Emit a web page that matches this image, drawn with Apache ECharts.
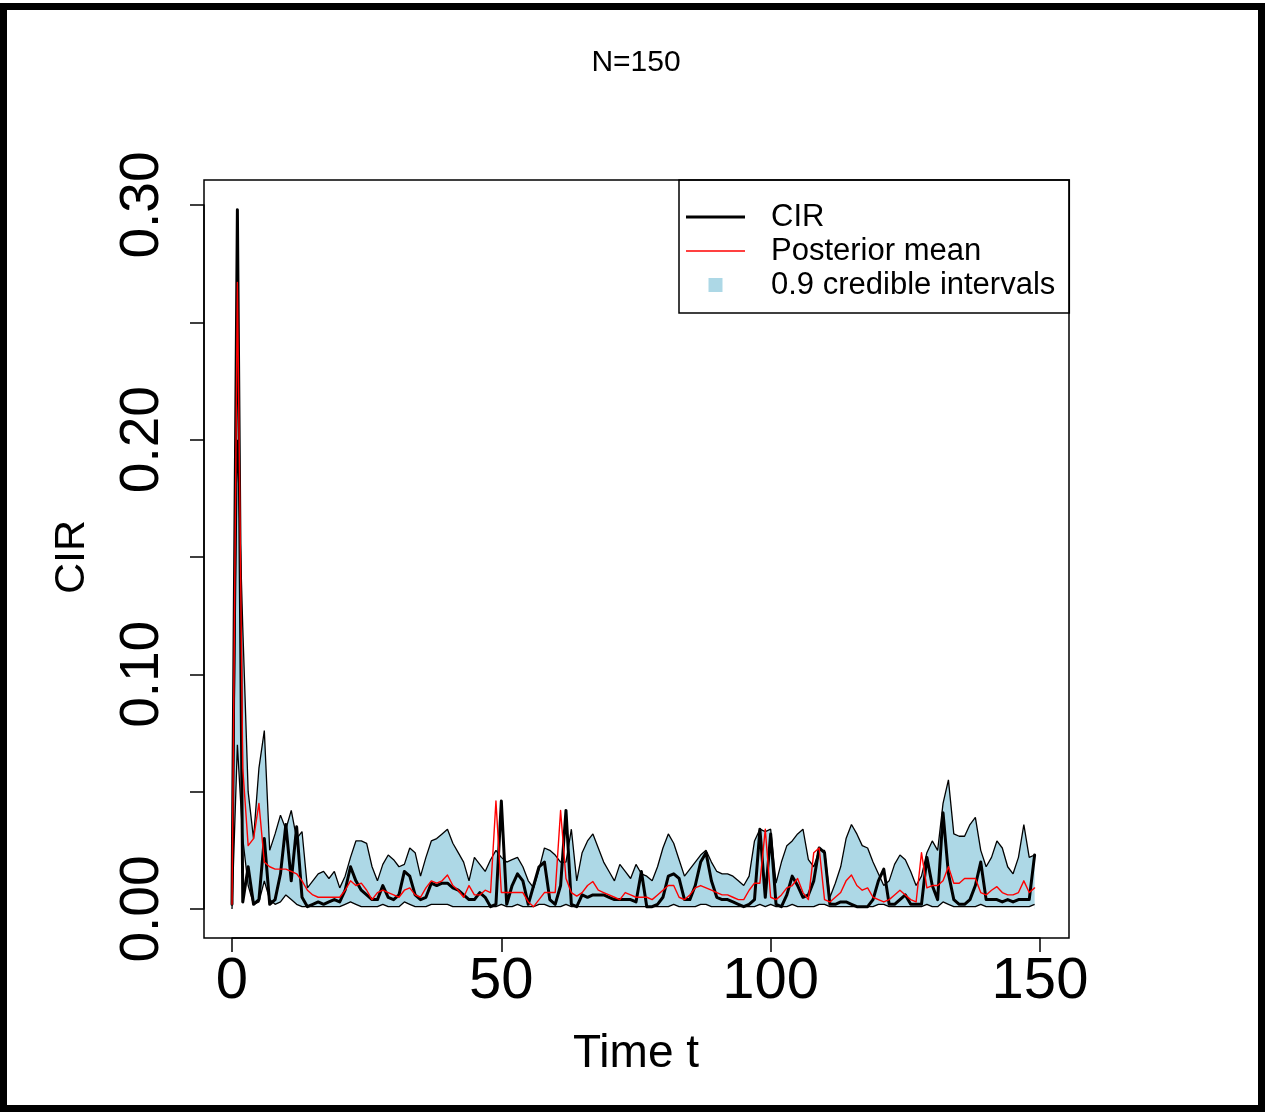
<!DOCTYPE html>
<html>
<head>
<meta charset="utf-8">
<title>N=150</title>
<script src="https://cdn.jsdelivr.net/npm/echarts@6/dist/echarts.min.js"></script>
<style>
  html, body { margin: 0; padding: 0; background: #fff; }
  #chart { width: 1265px; height: 1113px; }
</style>
</head>
<body>
<div id="chart"></div>
<script>
// values, one per time step t = 0 .. 149
const cirValues = [
  0.002, 0.298, 0.003, 0.018, 0.002, 0.004, 0.030, 0.002, 0.004, 0.015,
  0.036, 0.012, 0.035, 0.005, 0.001, 0.002, 0.003, 0.002, 0.003, 0.004,
  0.003, 0.008, 0.018, 0.012, 0.008, 0.006, 0.004, 0.004, 0.010, 0.005,
  0.004, 0.006, 0.016, 0.014, 0.006, 0.004, 0.005, 0.011, 0.010, 0.011,
  0.011, 0.009, 0.008, 0.006, 0.004, 0.004, 0.007, 0.005, 0.001, 0.002,
  0.046, 0.002, 0.010, 0.015, 0.012, 0.002, 0.010, 0.018, 0.020, 0.004,
  0.002, 0.010, 0.042, 0.002, 0.001, 0.006, 0.005, 0.006, 0.006, 0.006,
  0.005, 0.004, 0.004, 0.004, 0.004, 0.003, 0.016, 0.001, 0.001, 0.002,
  0.005, 0.014, 0.015, 0.013, 0.004, 0.004, 0.010, 0.020, 0.024, 0.012,
  0.005, 0.004, 0.004, 0.003, 0.002, 0.001, 0.002, 0.004, 0.034, 0.005,
  0.032, 0.002, 0.001, 0.006, 0.014, 0.010, 0.005, 0.006, 0.012, 0.026,
  0.024, 0.002, 0.002, 0.003, 0.003, 0.002, 0.001, 0.001, 0.001, 0.004,
  0.012, 0.017, 0.002, 0.002, 0.004, 0.006, 0.002, 0.002, 0.002, 0.022,
  0.010, 0.004, 0.041, 0.015, 0.004, 0.002, 0.002, 0.004, 0.010, 0.020,
  0.004, 0.004, 0.004, 0.003, 0.004, 0.003, 0.004, 0.004, 0.004, 0.023
]

const posteriorMean = [
  0.002, 0.267, 0.060, 0.027, 0.030, 0.045, 0.020, 0.018, 0.017, 0.017,
  0.017, 0.016, 0.015, 0.012, 0.008, 0.006, 0.005, 0.005, 0.005, 0.005,
  0.005, 0.008, 0.012, 0.010, 0.011, 0.008, 0.004, 0.007, 0.008, 0.007,
  0.006, 0.005, 0.008, 0.009, 0.006, 0.005, 0.009, 0.012, 0.011, 0.012,
  0.0145, 0.010, 0.008, 0.005, 0.010, 0.006, 0.006, 0.008, 0.007, 0.046,
  0.007, 0.007, 0.007, 0.007, 0.007, 0.003, 0.001, 0.004, 0.007, 0.007,
  0.007, 0.042, 0.013, 0.007, 0.0055, 0.007, 0.010, 0.0117, 0.008, 0.007,
  0.006, 0.005, 0.004, 0.007, 0.006, 0.005, 0.005, 0.005, 0.004, 0.006,
  0.008, 0.010, 0.010, 0.005, 0.004, 0.006, 0.009, 0.010, 0.009, 0.008,
  0.007, 0.006, 0.006, 0.005, 0.004, 0.004, 0.008, 0.011, 0.011, 0.034,
  0.005, 0.004, 0.006, 0.009, 0.010, 0.013, 0.007, 0.004, 0.024, 0.026,
  0.004, 0.003, 0.005, 0.007, 0.012, 0.0145, 0.010, 0.008, 0.009, 0.005,
  0.004, 0.003, 0.004, 0.006, 0.008, 0.006, 0.004, 0.003, 0.024, 0.009,
  0.010, 0.010, 0.012, 0.018, 0.011, 0.011, 0.013, 0.013, 0.013, 0.007,
  0.006, 0.008, 0.0095, 0.007, 0.006, 0.006, 0.007, 0.012, 0.007, 0.009
]

const lowerBound = [
  0.000, 0.070, 0.030, 0.010, 0.002, 0.003, 0.012, 0.004, 0.002, 0.003,
  0.006, 0.004, 0.002, 0.001, 0.001, 0.001, 0.001, 0.001, 0.001, 0.001,
  0.001, 0.002, 0.003, 0.002, 0.001, 0.001, 0.001, 0.001, 0.002, 0.001,
  0.001, 0.001, 0.003, 0.002, 0.001, 0.001, 0.001, 0.002, 0.002, 0.002,
  0.002, 0.001, 0.001, 0.001, 0.001, 0.001, 0.001, 0.001, 0.001, 0.001,
  0.002, 0.001, 0.001, 0.002, 0.001, 0.001, 0.001, 0.002, 0.002, 0.001,
  0.001, 0.001, 0.002, 0.001, 0.001, 0.001, 0.001, 0.001, 0.001, 0.001,
  0.001, 0.001, 0.001, 0.001, 0.001, 0.001, 0.001, 0.001, 0.001, 0.001,
  0.001, 0.001, 0.002, 0.001, 0.001, 0.001, 0.001, 0.002, 0.002, 0.001,
  0.001, 0.001, 0.001, 0.001, 0.001, 0.001, 0.001, 0.001, 0.002, 0.001,
  0.002, 0.001, 0.001, 0.001, 0.002, 0.001, 0.001, 0.001, 0.001, 0.002,
  0.002, 0.001, 0.001, 0.001, 0.001, 0.001, 0.001, 0.001, 0.001, 0.001,
  0.002, 0.002, 0.001, 0.001, 0.001, 0.001, 0.001, 0.001, 0.001, 0.002,
  0.001, 0.001, 0.003, 0.002, 0.001, 0.001, 0.001, 0.001, 0.001, 0.002,
  0.001, 0.001, 0.001, 0.001, 0.001, 0.001, 0.001, 0.001, 0.001, 0.002
]

const upperBound = [
  0.004, 0.200, 0.120, 0.050, 0.030, 0.060, 0.076, 0.025, 0.032, 0.040,
  0.034, 0.042, 0.030, 0.033, 0.009, 0.012, 0.015, 0.016, 0.013, 0.016,
  0.009, 0.014, 0.022, 0.029, 0.029, 0.028, 0.018, 0.012, 0.019, 0.023,
  0.021, 0.018, 0.019, 0.026, 0.024, 0.014, 0.022, 0.029, 0.030, 0.032,
  0.034, 0.028, 0.024, 0.020, 0.012, 0.022, 0.019, 0.016, 0.021, 0.025,
  0.022, 0.020, 0.021, 0.022, 0.018, 0.012, 0.009, 0.017, 0.026, 0.025,
  0.023, 0.020, 0.020, 0.034, 0.012, 0.024, 0.029, 0.032, 0.026, 0.020,
  0.016, 0.012, 0.019, 0.016, 0.013, 0.019, 0.015, 0.014, 0.012, 0.018,
  0.026, 0.032, 0.028, 0.021, 0.014, 0.017, 0.020, 0.023, 0.025, 0.020,
  0.016, 0.015, 0.015, 0.014, 0.012, 0.010, 0.014, 0.029, 0.034, 0.033,
  0.034, 0.011, 0.020, 0.027, 0.029, 0.032, 0.034, 0.021, 0.018, 0.025,
  0.025, 0.005, 0.011, 0.018, 0.030, 0.036, 0.032, 0.027, 0.026, 0.020,
  0.015, 0.010, 0.012, 0.019, 0.023, 0.021, 0.016, 0.010, 0.014, 0.024,
  0.029, 0.025, 0.045, 0.055, 0.032, 0.031, 0.031, 0.036, 0.039, 0.025,
  0.018, 0.022, 0.029, 0.026, 0.018, 0.015, 0.022, 0.036, 0.022, 0.023
]

const xTicks = { min: 0, max: 150, step: 50 }
const yTicks = { min: 0, max: 0.30, step: 0.05 }

const FONT = 'Liberation Sans, Arial, sans-serif'
const BAND = '#ADD8E6'

function pairs (values) {
  return values.map((v, t) => [t, v])
}

const chart = echarts.init(document.getElementById('chart'), null, { renderer: 'canvas' })

const option = {
  animation: false,
  backgroundColor: '#fff',
  textStyle: { fontFamily: FONT, color: '#000' },
  title: {
    text: 'N=150',
    left: 636,
    textAlign: 'center',
    top: 48,
    padding: 0,
    textStyle: { fontFamily: FONT, fontSize: 30, fontWeight: 'normal', color: '#000' }
  },
  legend: {
    orient: 'vertical',
    left: 679,
    top: 180,
    padding: [20, 14, 11, 7],
    itemGap: 0,
    itemWidth: 59,
    itemHeight: 14,
    borderColor: '#000',
    borderWidth: 1.5,
    borderRadius: 0,
    textStyle: { fontFamily: FONT, fontSize: 31, lineHeight: 34, color: '#000', padding: [0, 0, 0, 21] },
    data: [
      { name: 'CIR', icon: 'path://M0,0h59v3h-59z', itemStyle: { color: '#000', borderWidth: 0, opacity: 1 } },
      { name: 'Posterior mean', icon: 'path://M0,0h59v1.5h-59z', itemStyle: { color: '#ff0000', borderWidth: 0, opacity: 1 } },
      { name: '0.9 credible intervals', icon: 'path://M0,0h14v14h-14z', itemStyle: { color: BAND, borderWidth: 0, opacity: 1 } }
    ]
  },
  grid: { left: 232, right: 225, top: 205, bottom: 204, containLabel: false },
  xAxis: {
    type: 'value',
    min: xTicks.min,
    max: xTicks.max,
    interval: xTicks.step,
    offset: 29,
    splitLine: { show: false },
    axisLine: { show: true, onZero: false, lineStyle: { color: '#000', width: 1.5 } },
    axisTick: { show: true, length: 14, lineStyle: { color: '#000', width: 1.5 } },
    axisLabel: { fontFamily: FONT, fontSize: 58, color: '#000', margin: 15 },
    name: 'Time t',
    nameLocation: 'middle',
    nameGap: 93,
    nameTextStyle: { fontFamily: FONT, fontSize: 46, color: '#000' }
  },
  yAxis: {
    type: 'value',
    min: yTicks.min,
    max: yTicks.max,
    interval: yTicks.step,
    offset: 28,
    splitLine: { show: false },
    axisLine: { show: true, onZero: false, lineStyle: { color: '#000', width: 1.5 } },
    axisTick: { show: true, length: 14, lineStyle: { color: '#000', width: 1.5 } },
    axisLabel: {
      fontFamily: FONT,
      fontSize: 55,
      color: '#000',
      rotate: 90,
      margin: 34,
      formatter: function (v) {
        // R only prints every second tick here
        return Math.round(v * 100) % 10 === 0 ? v.toFixed(2) : ''
      }
    },
    name: 'CIR',
    nameLocation: 'middle',
    nameGap: 110,
    nameTextStyle: { fontFamily: FONT, fontSize: 43, color: '#000' }
  },
  graphic: [
    {
      type: 'rect',
      silent: true,
      z: 100,
      shape: { x: 204, y: 180, width: 865, height: 758 },
      style: { fill: 'none', stroke: '#000', lineWidth: 1.5 }
    },
    {
      type: 'rect',
      silent: true,
      z: 100,
      shape: { x: 3.5, y: 6.5, width: 1258, height: 1102 },
      style: { fill: 'none', stroke: '#000', lineWidth: 7 }
    }
  ],
  series: [
    {
      // upper limit, filled light blue down to zero
      name: '0.9 credible intervals',
      type: 'line',
      data: pairs(upperBound),
      symbol: 'none',
      clip: false,
      z: 1,
      color: BAND,
      lineStyle: { color: '#000', width: 1.3 },
      areaStyle: { color: BAND, opacity: 1, origin: 'start' }
    },
    {
      // lower limit, white below it so only the interval stays blue
      name: 'lower',
      type: 'line',
      data: pairs(lowerBound),
      symbol: 'none',
      clip: false,
      z: 2,
      color: '#fff',
      lineStyle: { color: '#000', width: 1.3 },
      areaStyle: { color: '#fff', opacity: 1, origin: 'start' }
    },
    {
      name: 'CIR',
      type: 'line',
      data: pairs(cirValues),
      symbol: 'none',
      clip: false,
      z: 3,
      color: '#000',
      lineStyle: { color: '#000', width: 3, cap: 'round', join: 'round' }
    },
    {
      name: 'Posterior mean',
      type: 'line',
      data: pairs(posteriorMean),
      symbol: 'none',
      clip: false,
      z: 4,
      color: '#ff0000',
      lineStyle: { color: '#ff0000', width: 1.4, cap: 'round', join: 'round' }
    }
  ]
}

chart.setOption(option)
window.addEventListener('resize', function () {
  chart.resize()
})
</script>
</body>
</html>
